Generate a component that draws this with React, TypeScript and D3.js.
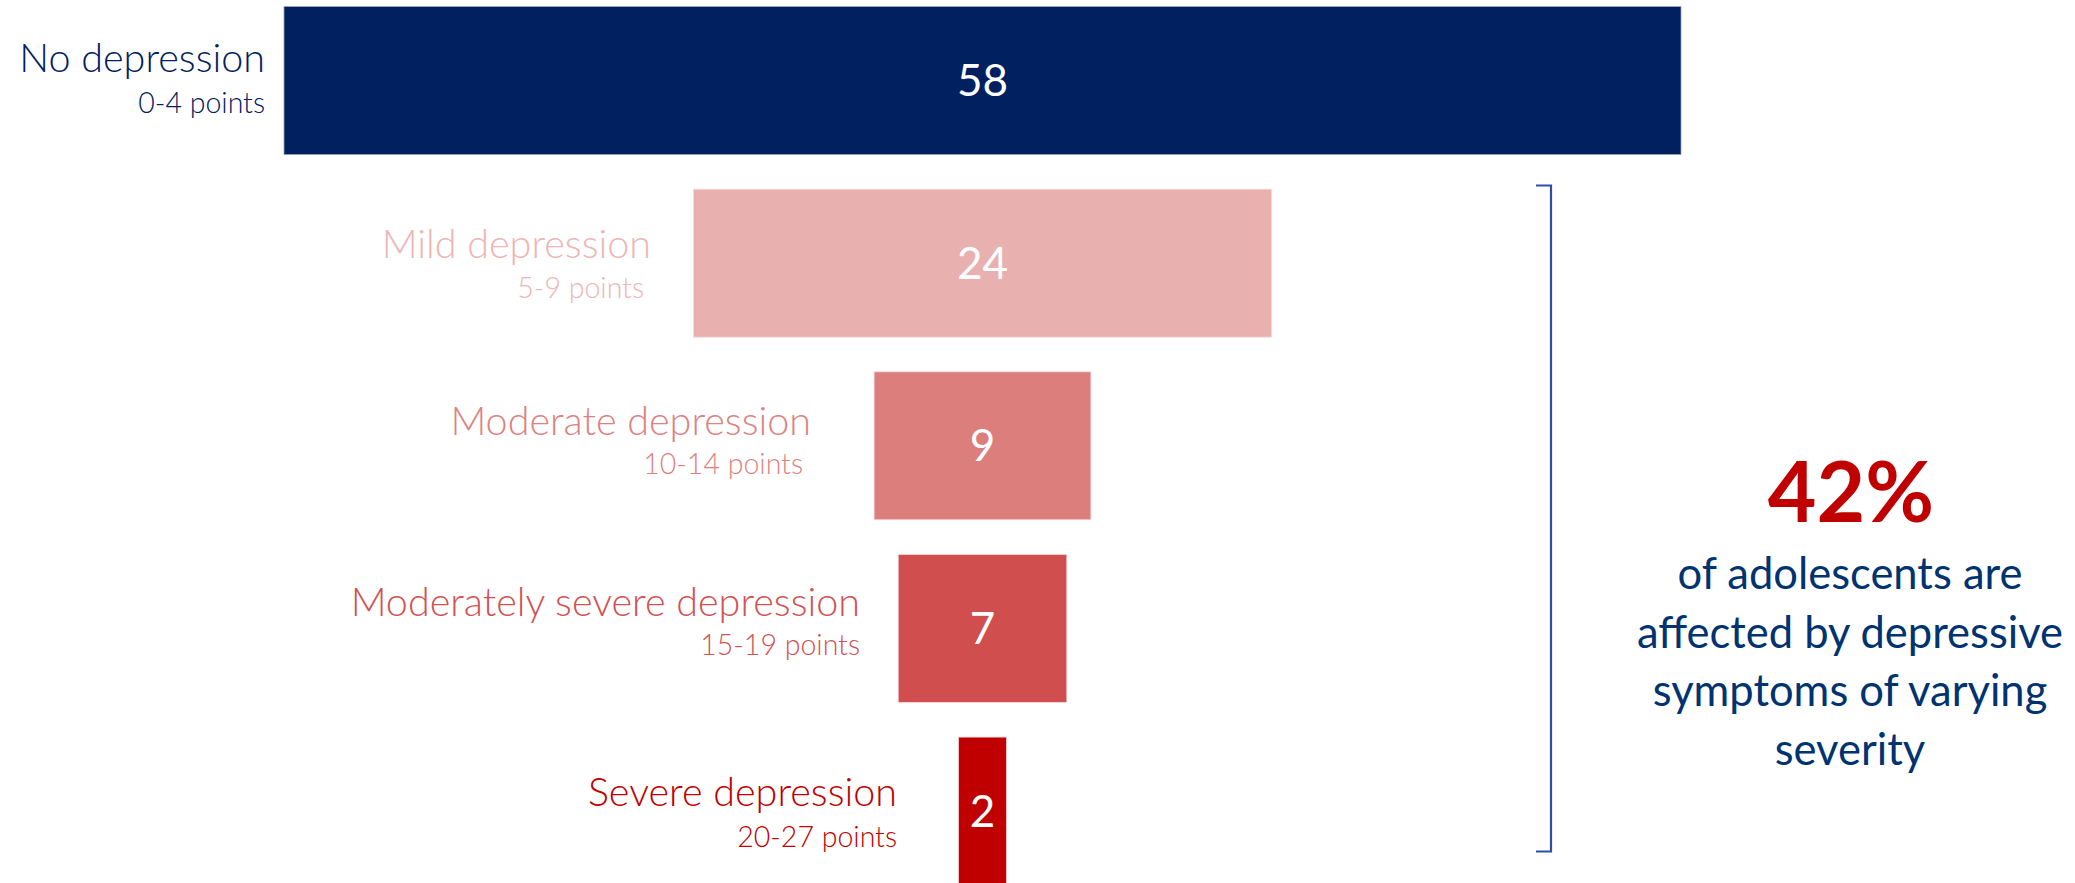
import React from "react";
import * as d3 from "d3";

const categories = [
  "No depression",
  "Mild depression",
  "Moderate depression",
  "Moderately severe depression",
  "Severe depression",
];
const pointRanges = ["0-4 points", "5-9 points", "10-14 points", "15-19 points", "20-27 points"];
const values = [58, 24, 9, 7, 2];
const colors = ["#002060", "#E8B1B0", "#DC7E7C", "#D04E4E", "#C00000"];
const labelColors = ["#002060", "#EDB5B4", "#DE8280", "#D25152", "#C00000"];
const calloutValue = "42%";
const calloutLines = [
  "of adolescents are",
  "affected by depressive",
  "symptoms of varying",
  "severity",
];

// label layout (right edge x, baseline offsets relative to band centre)
const labelRightX = [265, 651, 811, 860, 897];
const subRightX = [265, 644, 803, 860, 897];
const mainOffset = [-9, -5, -11, -12, -5];
const subOffset = [32, 35, 28, 27, 36];

const W = 2075;
const H = 883;
const CENTER_X = 982.5;

export default function App() {
  const x = d3.scaleLinear().domain([0, 58]).range([0, 1397]);
  const y = d3
    .scaleBand<string>()
    .domain(categories)
    .range([6.6, 885])
    .paddingInner(0.19)
    .paddingOuter(0);

  const font = "Lato, 'Open Sans', sans-serif";

  return (
    <svg
      width={W}
      height={H}
      style={{ position: "absolute", left: 0, top: 0, display: "block", background: "#fff" }}
    >
      {categories.map((c, i) => {
        const w = x(values[i]);
        const y0 = y(c)!;
        const cy = y0 + y.bandwidth() / 2;
        return (
          <g key={c}>
            <rect
              x={CENTER_X - w / 2}
              y={y0}
              width={w}
              height={y.bandwidth()}
              fill={colors[i]}
              stroke={i === 0 ? "#9aa3b5" : "#f3d9d9"}
              strokeWidth={0.8}
            />
            <text
              x={CENTER_X}
              y={cy + 15.5}
              textAnchor="middle"
              fill="#ffffff"
              fontFamily={font}
              fontSize={44}
              fontWeight={400}
            >
              {values[i]}
            </text>
            <text
              x={labelRightX[i]}
              y={cy + mainOffset[i]}
              textAnchor="end"
              fill={labelColors[i]}
              fontFamily={font}
              fontSize={39.5}
              fontWeight={300}
            >
              {c}
            </text>
            <text
              x={subRightX[i]}
              y={cy + subOffset[i]}
              textAnchor="end"
              fill={labelColors[i]}
              fontFamily={font}
              fontSize={28.5}
              fontWeight={300}
            >
              {pointRanges[i]}
            </text>
          </g>
        );
      })}
      <path
        d="M1536,185.5 H1551 V851.5 H1536"
        fill="none"
        stroke="#2E4DA8"
        strokeWidth={2.2}
      />
      <text
        x={1851}
        y={522}
        textAnchor="middle"
        fill="#C00000"
        fontFamily={font}
        fontSize={84}
        fontWeight={700}
      >
        {calloutValue}
      </text>
      {calloutLines.map((l, i) => (
        <text
          key={l}
          x={1850}
          y={589 + i * 58.5}
          textAnchor="middle"
          fill="#00336F"
          fontFamily={font}
          fontSize={43.5}
          fontWeight={400}
        >
          {l}
        </text>
      ))}
    </svg>
  );
}
